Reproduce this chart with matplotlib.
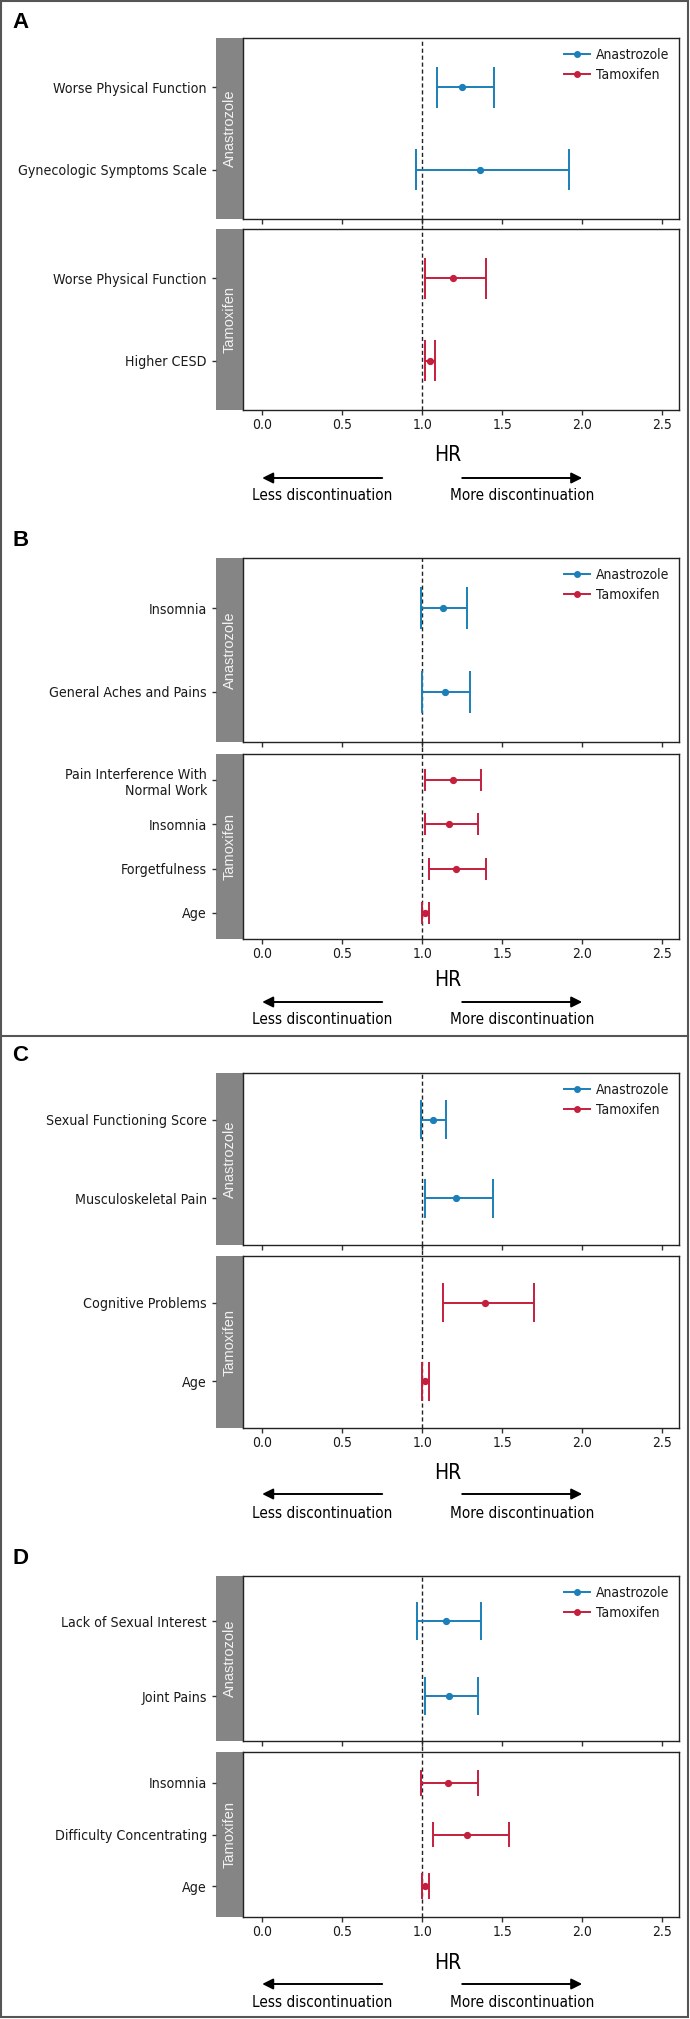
import numpy as np
import matplotlib
matplotlib.use("Agg")
import matplotlib.pyplot as plt
import matplotlib.transforms as mtransforms
from matplotlib.lines import Line2D
from matplotlib.patches import Rectangle
from matplotlib.font_manager import FontProperties

########################################################################
# data (HR with 95% CI)
a_ana_labels = ["Worse Physical Function", "Gynecologic Symptoms Scale"]
a_ana_hr = [1.25, 1.36]
a_ana_lo = [1.09, 0.96]
a_ana_hi = [1.45, 1.92]
a_tam_labels = ["Worse Physical Function", "Higher CESD"]
a_tam_hr = [1.19, 1.05]
a_tam_lo = [1.02, 1.02]
a_tam_hi = [1.40, 1.08]

b_ana_labels = ["Insomnia", "General Aches and Pains"]
b_ana_hr = [1.13, 1.14]
b_ana_lo = [0.99, 1.00]
b_ana_hi = [1.28, 1.30]
b_tam_labels = ["Pain Interference With\nNormal Work", "Insomnia", "Forgetfulness", "Age"]
b_tam_hr = [1.19, 1.17, 1.21, 1.02]
b_tam_lo = [1.02, 1.02, 1.04, 1.00]
b_tam_hi = [1.37, 1.35, 1.40, 1.04]

c_ana_labels = ["Sexual Functioning Score", "Musculoskeletal Pain"]
c_ana_hr = [1.07, 1.21]
c_ana_lo = [0.99, 1.02]
c_ana_hi = [1.15, 1.44]
c_tam_labels = ["Cognitive Problems", "Age"]
c_tam_hr = [1.39, 1.02]
c_tam_lo = [1.13, 1.00]
c_tam_hi = [1.70, 1.04]

d_ana_labels = ["Lack of Sexual Interest", "Joint Pains"]
d_ana_hr = [1.15, 1.17]
d_ana_lo = [0.97, 1.02]
d_ana_hi = [1.37, 1.35]
d_tam_labels = ["Insomnia", "Difficulty Concentrating", "Age"]
d_tam_hr = [1.16, 1.28, 1.02]
d_tam_lo = [0.99, 1.07, 1.00]
d_tam_hi = [1.35, 1.54, 1.04]

x_ticks = [0.0, 0.5, 1.0, 1.5, 2.0, 2.5]
x_ticklabels = ["0.0", "0.5", "1.0", "1.5", "2.0", "2.5"]
groups = ["Anastrozole", "Tamoxifen"]

########################################################################
W, H = 690, 2019
BLUE = "#1b7fb9"
RED = "#c41f3d"
SANS = ["Liberation Sans", "DejaVu Sans"]


def narrow(size):
    # condensed face for the labels (the original uses a condensed grotesque)
    return FontProperties(family=["DejaVu Sans"], stretch="condensed", size=size)


# pixel layout of each panel: tag y, upper (top, bottom), lower (top, bottom), HR y, arrow y, text y
layout = [
    ("A", 22, (38, 219), (229, 410), 455, 478, 495),
    ("B", 540, (558, 742), (754, 939), 980, 1002, 1019),
    ("C", 1055, (1073, 1245), (1256, 1428), 1473, 1494, 1513),
    ("D", 1558, (1576, 1741), (1752, 1917), 1963, 1984, 2002),
]
panels = [
    ((a_ana_labels, a_ana_hr, a_ana_lo, a_ana_hi), (a_tam_labels, a_tam_hr, a_tam_lo, a_tam_hi)),
    ((b_ana_labels, b_ana_hr, b_ana_lo, b_ana_hi), (b_tam_labels, b_tam_hr, b_tam_lo, b_tam_hi)),
    ((c_ana_labels, c_ana_hr, c_ana_lo, c_ana_hi), (c_tam_labels, c_tam_hr, c_tam_lo, c_tam_hi)),
    ((d_ana_labels, d_ana_hr, d_ana_lo, d_ana_hi), (d_tam_labels, d_tam_hr, d_tam_lo, d_tam_hi)),
]

STRIP_L, AX_L, AX_R = 216, 243, 679


def fx(px):
    return px / W


def fy(py):
    return 1 - py / H


def box(l, t, r, b):
    return [l / W, 1 - b / H, (r - l) / W, (b - t) / H]


def draw_group(fig, top, bottom, data, color, name, lower, gap=0):
    labels, hr, lo, hi = data
    n = len(labels)
    ypos = np.arange(1, n + 1)

    ax_s = fig.add_axes(box(STRIP_L, top, AX_L, bottom))
    ax_s.set_facecolor("#858585")
    for sp in ax_s.spines.values():
        sp.set_visible(False)
    ax_s.set_xticks([])
    ax_s.set_ylim(n + 0.6, 0.4)
    ax_s.set_yticks(ypos)
    ax_s.set_yticklabels(labels, fontproperties=narrow(10.2), color="#1a1a1a")
    ax_s.tick_params(axis="y", length=3, width=1, pad=3.5, color="#333333")
    ax_s.text(0.5, 0.5, name, rotation=90, transform=ax_s.transAxes, ha="center", va="center",
              color="#f2f2f2", fontsize=10.5, family=SANS)

    ax = fig.add_axes(box(AX_L, top, AX_R, bottom))
    ax.set_xlim(-0.12, 2.605)
    ax.set_ylim(n + 0.6, 0.4)
    ax.set_yticks([])
    for sp in ax.spines.values():
        sp.set_color("#222222")
        sp.set_linewidth(1.0)
    ax.set_xticks(x_ticks)
    ax.set_xticklabels(x_ticklabels, fontproperties=narrow(10), color="#1a1a1a")
    ax.tick_params(axis="x", length=3.6, width=1, pad=2.5, color="#333333", labelbottom=lower)

    ymax = 1 + gap / (bottom - top) if lower else 1
    ax.axvline(1.0, ymin=0, ymax=ymax, color="#222222", lw=1.0, ls=(0, (3, 2)), clip_on=False, zorder=1)
    ax.hlines(ypos, lo, hi, color=color, lw=1.4, zorder=2)
    ax.vlines(lo, ypos - 0.25, ypos + 0.25, color=color, lw=1.4, zorder=2)
    ax.vlines(hi, ypos - 0.25, ypos + 0.25, color=color, lw=1.4, zorder=2)
    ax.plot(hr, ypos, "o", color=color, ms=4.2, zorder=3)
    return ax


def main():
    fig = plt.figure(figsize=(W / 100, H / 100), dpi=100)

    for (tag, tag_y, up, low, hr_y, arrow_y, text_y), (ana, tam) in zip(layout, panels):
        fig.text(fx(12), fy(tag_y), tag, fontsize=16, fontweight="bold", family=SANS,
                 ha="left", va="center")
        ax_up = draw_group(fig, up[0], up[1], ana, BLUE, groups[0], False)
        ax_lo = draw_group(fig, low[0], low[1], tam, RED, groups[1], True, gap=low[0] - up[1])

        handles = [Line2D([], [], color=BLUE, lw=1.4, marker="o", ms=4),
                   Line2D([], [], color=RED, lw=1.4, marker="o", ms=4)]
        leg = ax_up.legend(handles, groups, loc="upper right", frameon=False,
                           prop=narrow(10), handlelength=1.9,
                           handletextpad=0.4, labelspacing=0.45, borderaxespad=0.3)
        for t in leg.get_texts():
            t.set_color("#1a1a1a")

        fig.text(fx((STRIP_L + AX_R) / 2), fy(hr_y), "HR", fontproperties=narrow(15),
                 ha="center", va="center")

        trans = mtransforms.blended_transform_factory(ax_lo.transData, fig.transFigure)
        arrow = dict(arrowstyle="-|>", color="black", lw=1.4, mutation_scale=16, shrinkA=0, shrinkB=0)
        ax_lo.annotate("", xy=(0.0, fy(arrow_y)), xytext=(0.75, fy(arrow_y)), xycoords=trans,
                       textcoords=trans, arrowprops=arrow, annotation_clip=False)
        ax_lo.annotate("", xy=(2.0, fy(arrow_y)), xytext=(1.25, fy(arrow_y)), xycoords=trans,
                       textcoords=trans, arrowprops=arrow, annotation_clip=False)
        ax_lo.text(0.375, fy(text_y), "Less discontinuation", transform=trans, ha="center",
                   va="center", fontproperties=narrow(11), clip_on=False)
        ax_lo.text(1.625, fy(text_y), "More discontinuation", transform=trans, ha="center",
                   va="center", fontproperties=narrow(11), clip_on=False)

    # outer frame and the rule between B and C
    fig.add_artist(Rectangle((fx(1), fy(2017)), fx(687), 2016 / H, transform=fig.transFigure,
                             fill=False, lw=1.5, ec="#555555"))
    fig.add_artist(Line2D([fx(1), fx(688)], [fy(1036), fy(1036)], transform=fig.transFigure,
                          lw=1.5, color="#555555"))

    fig.savefig("out.png", dpi=100)


main()
